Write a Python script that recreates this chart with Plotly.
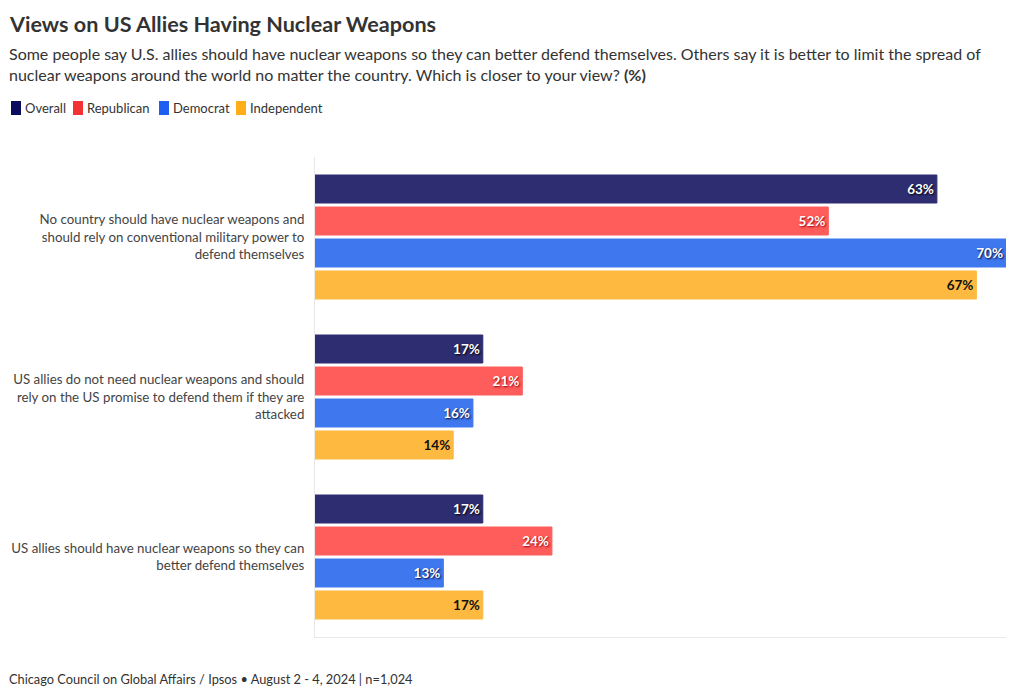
import plotly.graph_objects as go

categories = [
    "No country should have nuclear weapons and<br>should rely on conventional military power to<br>defend themselves",
    "US allies do not need nuclear weapons and should<br>rely on the US promise to defend them if they are<br>attacked",
    "US allies should have nuclear weapons so they can<br>better defend themselves",
]
series_names = ["Overall", "Republican", "Democrat", "Independent"]
overall = [63, 17, 17]
republican = [52, 21, 24]
democrat = [70, 16, 13]
independent = [67, 14, 17]

values = [overall, republican, democrat, independent]
colors = ["#2e2d72", "#ff5c5c", "#3f78ee", "#fdb940"]
legend_colors = ["#0b0b5e", "#f33333", "#1f5ff0", "#ffae1a"]
text_colors = ["#ffffff", "#ffffff", "#ffffff", "#111111"]
shadows = ["1px 1px 2px #000", "1px 1px 2px #900", "1px 1px 2px #003", "none"]

FONT = "Lato"
L, R, T, B = 315, 14, 157, 61
W, H = 1020, 698
PW, PH = W - L - R, H - T - B


def px(x):
    return (x - L) / PW


def py(y):
    return 1 - (y - T) / PH


fig = go.Figure()
for name, vals, c, tc, sh in zip(series_names, values, colors, text_colors, shadows):
    fig.add_trace(go.Bar(
        y=categories, x=vals, name=name, orientation="h",
        marker=dict(color=c, line=dict(color=c, width=1)),
        texttemplate="%{x}%", textposition="inside", insidetextanchor="end",
        textfont=dict(family=FONT, size=13.5, color=tc, weight="bold", shadow=sh),
        textangle=0, hoverinfo="x+name",
    ))

annotations = [
    dict(text="Some people say U.S. allies should have nuclear weapons so they can better defend themselves. Others say it is better to limit the spread of<br>nuclear weapons around the world no matter the country. Which is closer to your view? <b>(%)</b>",
         xref="paper", yref="paper", x=px(7), xanchor="left", y=py(42), yanchor="top",
         align="left", showarrow=False, font=dict(family=FONT, size=16, color="#333333")),
    dict(text="Chicago Council on Global Affairs / Ipsos • August 2 - 4, 2024 | n=1,024",
         xref="paper", yref="paper", x=px(7), xanchor="left", y=py(679), yanchor="middle",
         align="left", showarrow=False, font=dict(family=FONT, size=12.8, color="#333333")),
]
shapes = []
sq_x = [11, 73, 159, 236]
for name, lc, sx in zip(series_names, legend_colors, sq_x):
    shapes.append(dict(type="rect", xref="paper", yref="paper",
                       x0=px(sx), x1=px(sx + 10), y0=py(101), y1=py(115),
                       fillcolor=lc, line=dict(width=0), layer="above"))
    annotations.append(dict(text=name, xref="paper", yref="paper", x=px(sx + 12), xanchor="left",
                            y=py(108), yanchor="middle", showarrow=False,
                            font=dict(family=FONT, size=13, color="#333333")))

fig.update_layout(
    width=W, height=H,
    margin=dict(l=L, r=R, t=T, b=B),
    paper_bgcolor="white", plot_bgcolor="white",
    barmode="group", bargap=0.2, bargroupgap=0.125,
    font=dict(family=FONT, size=13, color="#444444"),
    title=dict(text="<b>Views on US Allies Having Nuclear Weapons</b>",
               x=10 / W, xanchor="left", y=1 - 24 / H, yanchor="middle",
               font=dict(family=FONT, size=21.6, color="#333333")),
    showlegend=False,
    xaxis=dict(range=[0, 70], showgrid=False, zeroline=False, showticklabels=False,
               showline=True, linecolor="#e8e8e8", linewidth=1, fixedrange=True),
    yaxis=dict(autorange="reversed", showgrid=False, showline=True, linecolor="#e8e8e8",
               linewidth=1, ticks="", ticklabelstandoff=7,
               tickfont=dict(family=FONT, size=13.3, color="#444444")),
    annotations=annotations,
    shapes=shapes,
)

fig.write_html("out.html")
